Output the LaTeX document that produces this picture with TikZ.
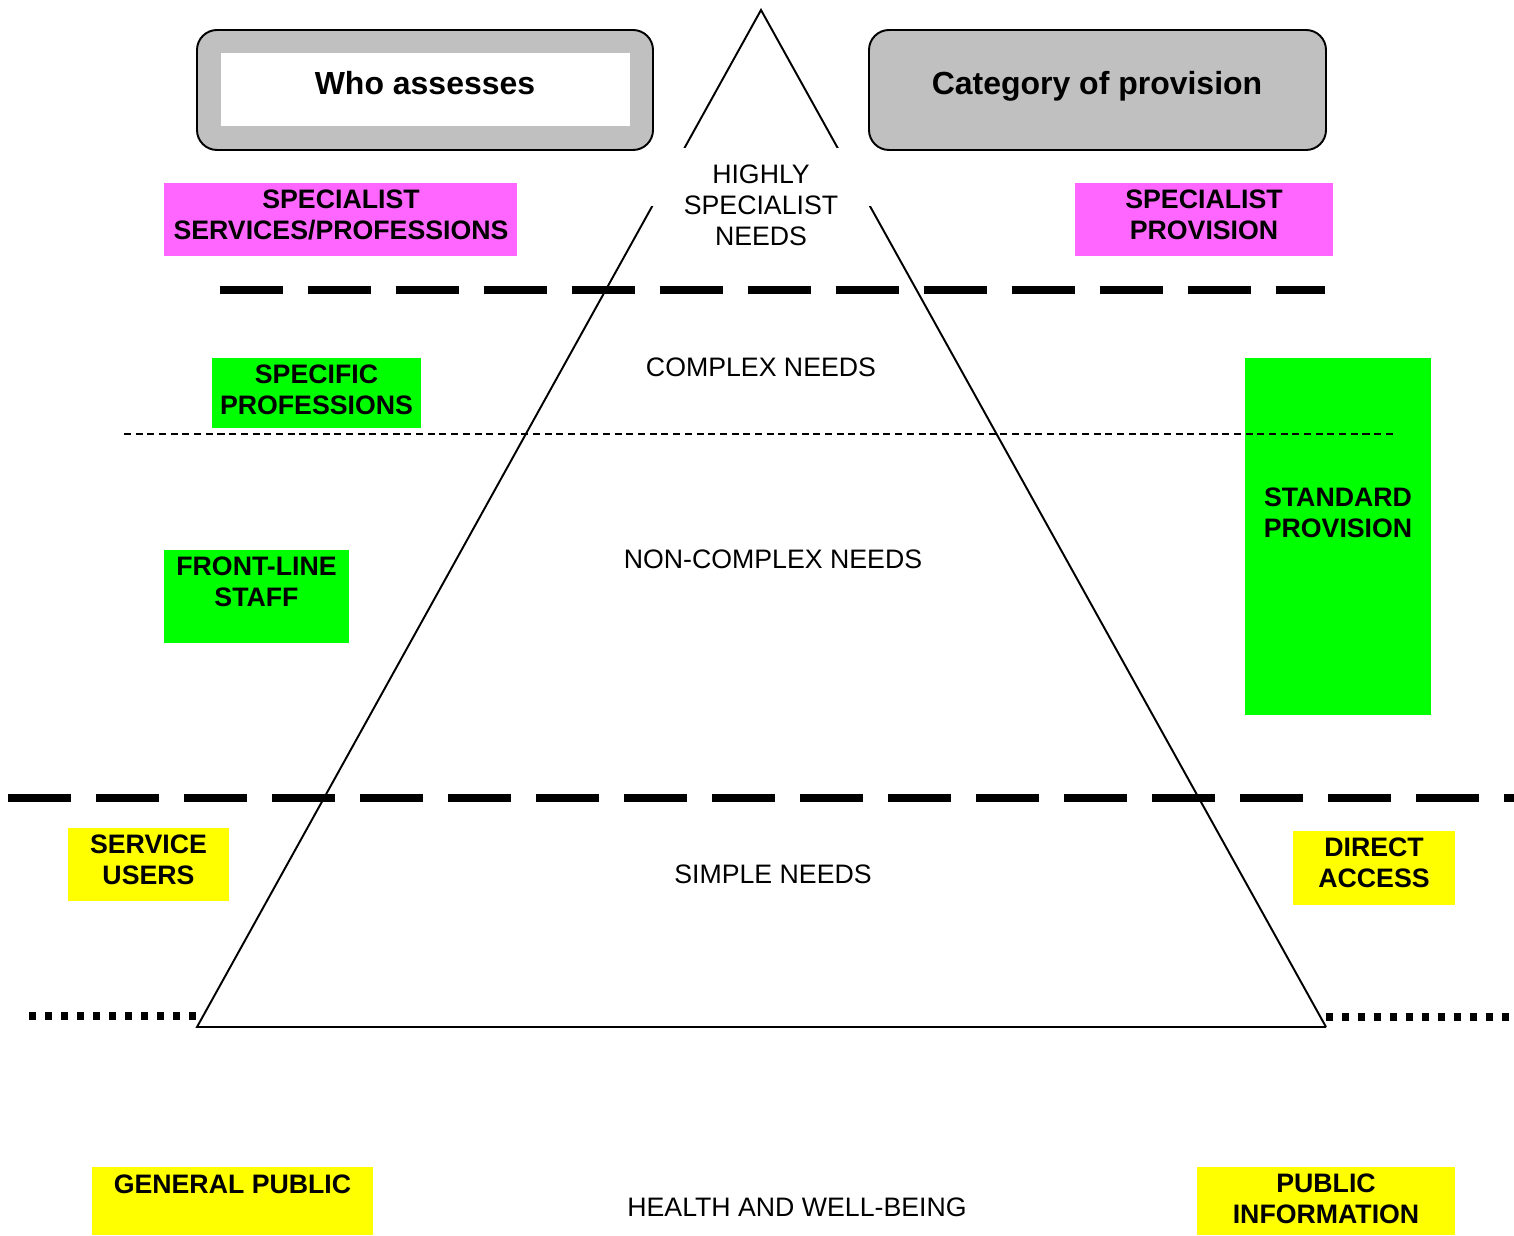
\documentclass[tikz,border=0pt]{standalone}
\usepackage{fontspec}
\setmainfont{Liberation Sans}
\definecolor{boxgray}{HTML}{C0C0C0}
\definecolor{mag}{HTML}{FF66FF}
\definecolor{grn}{HTML}{00FF00}
\definecolor{yel}{HTML}{FFFF00}
\begin{document}
\begin{tikzpicture}[x=0.02cm,y=-0.02cm,
  lbl/.style={font=\fontsize{15.2}{17.6}\selectfont\bfseries, align=center, inner sep=0pt},
  plain/.style={font=\fontsize{15.2}{17.6}\selectfont, align=center, inner sep=0pt},
  title/.style={font=\fontsize{18.2}{21}\selectfont\bfseries, inner sep=0pt, anchor=base},
  tri/.style={line width=1.1pt, line join=miter},
  bigdash/.style={line width=4.27pt, dash pattern=on 35.85pt off 14.23pt},
  thindash/.style={line width=0.75pt, dash pattern=on 4pt off 2.65pt},
  dots/.style={line width=4.55pt, dash pattern=on 4pt off 5.1pt},
  hdrbox/.style={draw, line width=1.1pt, fill=boxgray, rounded corners=0.4cm}]
\useasboundingbox (0,0) rectangle (1514,1236);
\fill[white] (0,0) rectangle (1514,1236);

% header boxes
\draw[hdrbox] (197,30) rectangle (653,150);
\fill[white] (221,53) rectangle (630,126);
\node[title] (who) at (425,94.5) {Who assesses};
\draw[hdrbox] (869,30) rectangle (1326,150);
\node[title] (cat) at (1097,94.5) {Category of provision};

% coloured boxes
\fill[mag] (164,183) rectangle (517,256);
\fill[mag] (1075,183) rectangle (1333,256);
\fill[grn] (212,358) rectangle (421,428);
\fill[grn] (1245,358) rectangle (1431,715);
\fill[grn] (164,550) rectangle (349,643);
\fill[yel] (68,828) rectangle (229,901);
\fill[yel] (1293,831) rectangle (1455,905);
\fill[yel] (92,1167) rectangle (373,1235);
\fill[yel] (1197,1167) rectangle (1455,1235);

% triangle (with gap near apex text)
\coordinate (apex) at (761,10);
\coordinate (bl) at (197,1027);
\coordinate (br) at (1326,1027);
\begin{scope}
  \clip (0,0) rectangle (1514,148);
  \draw[tri] (bl) -- (apex) -- (br);
\end{scope}
\begin{scope}
  \clip (0,207) rectangle (1514,1236);
  \draw[tri] (br) -- (bl) -- (apex) -- (br);
\end{scope}

% separator lines
\draw[bigdash] (220,290) -- (1325,290);
\draw[thindash] (124,434) -- (1393,434);
\draw[bigdash] (8,798) -- (1514,798);
\draw[dots] (29,1016) -- (197,1016);
\draw[dots] (1326,1017) -- (1514,1017);

% labels
\node[lbl] (sspl) at (341,214.5) {SPECIALIST\\SERVICES/PROFESSIONS};
\node[lbl] (sprov) at (1204,214.5) {SPECIALIST\\PROVISION};
\node[plain] (hsn) at (761,205.5) {HIGHLY\\SPECIALIST\\NEEDS};
\node[lbl] (spec) at (316.5,389.5) {SPECIFIC\\PROFESSIONS};
\node[plain, anchor=base] (cx) at (761,376.5) {COMPLEX NEEDS};
\node[lbl] (stdp) at (1338,512.5) {STANDARD\\PROVISION};
\node[lbl] (fls) at (256.5,581.5) {FRONT-LINE\\STAFF};
\node[plain, anchor=base] (ncx) at (773,568.5) {NON-COMPLEX NEEDS};
\node[lbl] (su) at (148.5,859.5) {SERVICE\\USERS};
\node[lbl] (da) at (1374,863) {DIRECT\\ACCESS};
\node[plain, anchor=base] (sn) at (773,883.5) {SIMPLE NEEDS};
\node[lbl, anchor=base] (gp) at (232.5,1193.5) {GENERAL PUBLIC};
\node[plain, anchor=base] (hw) at (797,1216.5) {HEALTH AND WELL-BEING};
\node[lbl] (pi) at (1326,1199) {PUBLIC\\INFORMATION};
\end{tikzpicture}
\end{document}
